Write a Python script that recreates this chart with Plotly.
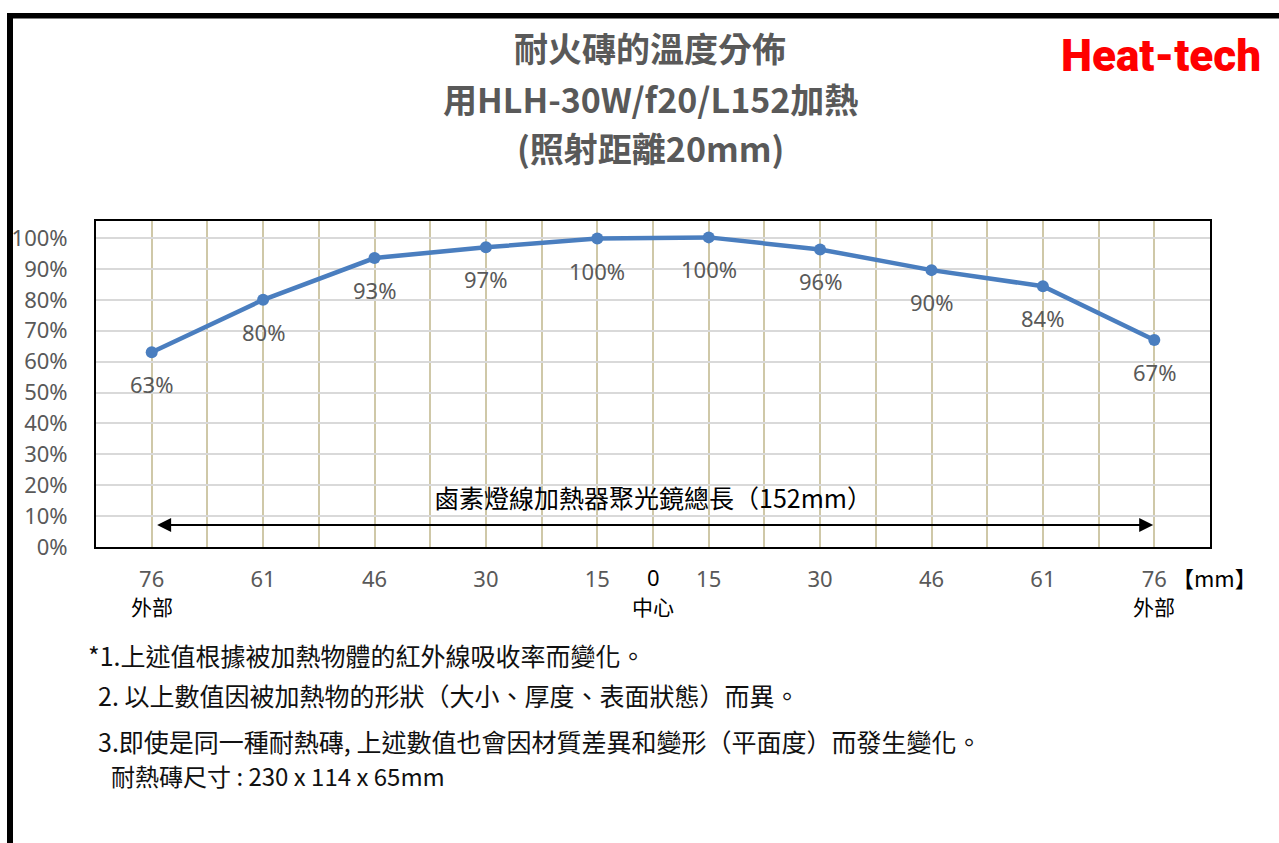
import plotly.graph_objects as go

# positions along the brick (mm from centre), left edge -> right edge
pos_labels = ["76", "61", "46", "30", "15", "15", "30", "46", "61", "76"]
temp_pct = [0.63, 0.80, 0.935, 0.97, 0.998, 1.002, 0.963, 0.896, 0.844, 0.67]
temp_text = ["63%", "80%", "93%", "97%", "100%", "100%", "96%", "90%", "84%", "67%"]
y_ticks = [0, 0.1, 0.2, 0.3, 0.4, 0.5, 0.6, 0.7, 0.8, 0.9, 1.0]

title_lines = ["耐火磚的溫度分佈", "用HLH-30W/f20/L152加熱", "(照射距離20mm)"]
notes = [
    "*1.上述值根據被加熱物體的紅外線吸收率而變化。",
    "2. 以上數值因被加熱物的形狀（大小、厚度、表面狀態）而異。",
    "3.即使是同一種耐熱磚, 上述數值也會因材質差異和變形（平面度）而發生變化。",
    "耐熱磚尺寸 : 230 x 114 x 65mm",
]
arrow_text = "鹵素燈線加熱器聚光鏡總長（152mm）"

W, H = 1279, 843
L, R, T, B = 96, 1210, 221, 547

FONT = "Noto Sans, Noto Sans CJK TC, sans-serif"
CJK = "Noto Sans CJK TC, sans-serif"
GREY = "#595959"
BLUE = "#4A7EBF"


def px(x):
    return (x - L) / (R - L)


def py(y):
    return (B - y) / (B - T)


xs = list(range(len(temp_pct)))
mid = (xs[0] + xs[-1]) / 2

fig = go.Figure()

fig.add_trace(
    go.Scatter(
        x=xs,
        y=temp_pct,
        mode="lines+markers",
        line=dict(color=BLUE, width=4.5),
        marker=dict(color=BLUE, size=12),
        showlegend=False,
        hoverinfo="skip",
    )
)

annotations = []


def note(x, y, text, font, xref="paper", yref="paper", xanchor="center", **kw):
    annotations.append(
        dict(x=x, y=y, xref=xref, yref=yref, text=text, showarrow=False,
             xanchor=xanchor, yanchor="middle", font=font, **kw)
    )


# data labels under each point
for x, y, t in zip(xs, temp_pct, temp_text):
    note(x, y, t, dict(family=FONT, size=22, color=GREY), xref="x", yref="y", yshift=-32)

# double arrow spanning the heater length
annotations.append(
    dict(x=xs[-1] - 0.01, y=0.071, ax=xs[0] + 0.035, ay=0.071,
         xref="x", yref="y", axref="x", ayref="y", text="",
         showarrow=True, arrowside="end+start", arrowhead=2,
         arrowsize=1.4, arrowwidth=2, arrowcolor="#000000")
)
note(mid, 0.162, arrow_text, dict(family=CJK, size=25, color="#000000"), xref="x", yref="y")

# centre "0" and the position words
note(mid, py(577), "0", dict(family=FONT, size=22, color="#000000"), xref="x")
for x, t in [(xs[0], "外部"), (mid, "中心"), (xs[-1], "外部")]:
    note(x, py(606), t, dict(family=CJK, size=21, color="#000000"), xref="x")
note(px(1214), py(577), "【mm】", dict(family=CJK, size=22, color="#000000"))

# titles
for t, yy in zip(title_lines, [48, 99, 147]):
    note(px(650), py(yy), "<b>" + t + "</b>", dict(family=CJK, size=34, color=GREY))

# logo
note(px(1161), py(56), "Heat-tech",
     dict(family="Roboto, Liberation Sans, sans-serif", size=44, color="#FF0000", weight=900))

# notes below the chart
for t, xx, yy, sz in zip(notes, [86, 96, 96, 109], [655, 695, 741, 775], [25, 25, 25, 24]):
    note(px(xx), py(yy), t, dict(family=CJK, size=sz, color="#111111"), xanchor="left")

fig.update_layout(
    width=W,
    height=H,
    margin=dict(l=L, r=W - R, t=T, b=H - B),
    paper_bgcolor="#FFFFFF",
    plot_bgcolor="#FFFFFF",
    annotations=annotations,
    shapes=[
        dict(type="rect", xref="paper", yref="paper", x0=px(7), x1=px(13),
             y0=py(H + 5), y1=py(13), fillcolor="#000000", line=dict(width=0)),
        dict(type="rect", xref="paper", yref="paper", x0=px(7), x1=px(W + 5),
             y0=py(18.5), y1=py(13), fillcolor="#000000", line=dict(width=0)),
    ],
    xaxis=dict(
        range=[-0.5, len(xs) - 0.5],
        tickvals=xs,
        ticktext=pos_labels,
        tickfont=dict(family=FONT, size=22, color=GREY),
        ticks="",
        ticklabelstandoff=12,
        showgrid=True,
        gridcolor="#CFC8A8",
        gridwidth=2,
        minor=dict(dtick=0.5, tick0=0, showgrid=True, gridcolor="#CFC8A8", gridwidth=2),
        showline=True,
        linecolor="#000000",
        linewidth=2,
        mirror=True,
        zeroline=False,
        fixedrange=True,
    ),
    yaxis=dict(
        range=[0, 1.055],
        tickvals=y_ticks,
        tickformat=".0%",
        tickfont=dict(family=FONT, size=22, color=GREY),
        ticks="",
        ticklabelstandoff=22,
        showgrid=True,
        gridcolor="#D9D9D9",
        gridwidth=2,
        showline=True,
        linecolor="#000000",
        linewidth=2,
        mirror=True,
        zeroline=False,
        fixedrange=True,
    ),
)

fig.write_html(
    "out.html",
    config={"displayModeBar": False},
    post_script="document.body.style.margin='0';",
)
